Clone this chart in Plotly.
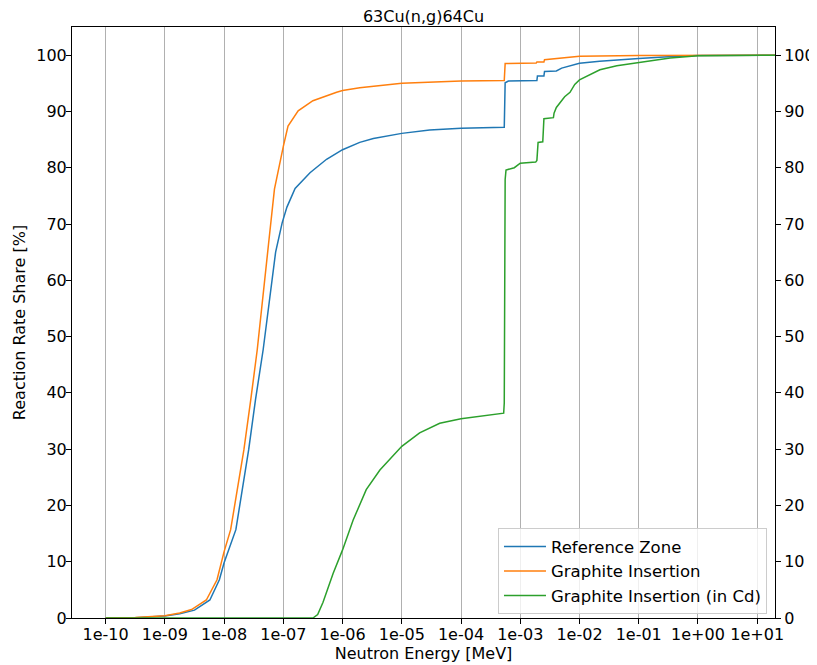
import plotly.graph_objects as go

# ---- data (energy in MeV, cumulative share in %) ----
energy_ref = [1e-10, 3.16e-10, 1e-9, 1.78e-9, 3.16e-9, 5.75e-9, 8.32e-9, 1e-8, 1.58e-8,
              2.60e-8, 3.39e-8, 4.57e-8, 7.41e-8, 9.55e-8, 1.15e-7, 1.58e-7, 2.82e-7,
              5.37e-7, 1e-6, 1.95e-6, 3.31e-6, 1e-5, 2.95e-5, 1e-4, 5.37e-4, 5.56e-4,
              6.31e-4, 1.91e-3, 1.95e-3, 2.51e-3, 2.57e-3, 4.07e-3, 5.01e-3, 7.41e-3,
              1e-2, 2.19e-2, 4.79e-2, 1e-1, 3.16e-1, 1.0, 20.0]
share_ref = [0, 0.06, 0.35, 0.75, 1.4, 3.2, 6.8, 9.8, 15.7,
             29.9, 38.8, 47.7, 65.0, 70.2, 73.0, 76.3, 79.1,
             81.5, 83.2, 84.5, 85.2, 86.1, 86.7, 87.0, 87.2, 95.1,
             95.4, 95.5, 96.3, 96.3, 97.1, 97.2, 97.7, 98.2,
             98.55, 98.9, 99.2, 99.4, 99.7, 99.95, 100]

energy_gi = [1e-10, 3.16e-10, 1e-9, 1.78e-9, 2.82e-9, 5.01e-9, 7.59e-9, 1e-8, 1.29e-8,
             2.16e-8, 2.82e-8, 3.63e-8, 5.62e-8, 7.08e-8, 1e-7, 1.20e-7, 1.78e-7,
             3.16e-7, 7.94e-7, 1e-6, 1.95e-6, 1e-5, 1e-4, 5.37e-4, 5.56e-4, 1.86e-3,
             1.91e-3, 2.51e-3, 2.57e-3, 5.01e-3, 1e-2, 1e-1, 1.0, 20.0]
share_gi = [0, 0.08, 0.4, 0.9, 1.5, 3.2, 6.8, 11.8, 15.7,
            29.9, 38.8, 47.7, 66.4, 76.2, 83.8, 87.4, 90.1,
            91.9, 93.4, 93.7, 94.2, 95.0, 95.4, 95.5, 98.5, 98.6,
            98.8, 98.8, 99.2, 99.5, 99.8, 99.95, 100, 100]

energy_cd = [1e-10, 3.16e-7, 3.80e-7, 4.68e-7, 6.92e-7, 1e-6, 1.51e-6, 2.51e-6, 4.27e-6,
             1e-5, 2.00e-5, 4.37e-5, 1e-4, 2.34e-4, 5.25e-4, 5.37e-4, 5.56e-4,
             5.75e-4, 7.94e-4, 1e-3, 1.82e-3, 1.91e-3, 2.00e-3, 2.40e-3, 2.51e-3,
             3.63e-3, 3.72e-3, 4.07e-3, 5.01e-3, 5.62e-3, 6.92e-3, 8.32e-3, 1e-2,
             1.51e-2, 2.21e-2, 4.27e-2, 1e-1, 1.55e-1, 3.39e-1, 1.0, 20.0]
share_cd = [0, 0, 0.6, 2.8, 7.9, 12.1, 17.4, 22.8, 26.3,
            30.5, 32.9, 34.6, 35.4, 35.9, 36.4, 38.2, 77.9,
            79.6, 80.0, 80.8, 81.0, 81.3, 84.5, 84.6, 88.7,
            88.9, 89.7, 90.7, 91.9, 92.6, 93.4, 94.8, 95.6,
            96.6, 97.4, 98.1, 98.7, 99.0, 99.5, 99.9, 100]

series_names = ["Reference Zone", "Graphite Insertion", "Graphite Insertion (in Cd)"]
series_colors = ["#1f77b4", "#ff7f0e", "#2ca02c"]

x_tick_vals = [1e-10, 1e-9, 1e-8, 1e-7, 1e-6, 1e-5, 1e-4, 1e-3, 1e-2, 1e-1, 1e0, 1e1]
x_tick_text = ["1e-10", "1e-09", "1e-08", "1e-07", "1e-06", "1e-05", "1e-04",
               "1e-03", "1e-02", "1e-01", "1e+00", "1e+01"]
y_tick_vals = [0, 10, 20, 30, 40, 50, 60, 70, 80, 90, 100]

FONT = "DejaVu Sans"
W, H = 809, 657  # page body adds an 8px offset

fig = go.Figure()
for name, E, v, c in zip(series_names,
                         [energy_ref, energy_gi, energy_cd],
                         [share_ref, share_gi, share_cd],
                         series_colors):
    fig.add_trace(go.Scatter(x=E, y=v, mode="lines", name=name,
                             line=dict(color=c, width=1.5)))

# invisible helper so the right-hand axis is drawn
fig.add_trace(go.Scatter(x=[1e-10], y=[0], yaxis="y2", mode="markers",
                         marker=dict(opacity=0), showlegend=False, hoverinfo="skip"))

fig.update_layout(
    width=W, height=H,
    margin=dict(l=64, r=42, t=19, b=47, autoexpand=False),
    paper_bgcolor="white", plot_bgcolor="white",
    font=dict(family=FONT, size=16, color="black"),
    title=dict(text="63Cu(n,g)64Cu", x=0.5, xref="paper", xanchor="center",
               y=1 - 8 / H, yref="container", yanchor="middle",
               font=dict(family=FONT, size=16, color="black")),
    xaxis=dict(type="log", range=[-10.568, 1.301], automargin=False,
               tickvals=x_tick_vals, ticktext=x_tick_text,
               ticks="outside", ticklen=5, tickcolor="black", tickwidth=1,
               ticklabelstandoff=-3,
               showline=True, linecolor="black", linewidth=1, mirror=True,
               showgrid=True, gridcolor="#b0b0b0", gridwidth=1, zeroline=False,
               tickfont=dict(family=FONT, size=16, color="black"),
               title=dict(text="Neutron Energy [MeV]", standoff=0,
                          font=dict(family=FONT, size=16, color="black"))),
    yaxis=dict(range=[0, 105], tickvals=y_tick_vals, automargin=False,
               ticks="outside", ticklen=5, tickcolor="black", tickwidth=1,
               ticklabelstandoff=-4,
               showline=True, linecolor="black", linewidth=1, mirror=True,
               showgrid=False, zeroline=False,
               tickfont=dict(family=FONT, size=16, color="black"),
               title=dict(text="Reaction Rate Share [%]", standoff=6,
                          font=dict(family=FONT, size=16, color="black"))),
    yaxis2=dict(overlaying="y", side="right", range=[0, 105], tickvals=y_tick_vals,
                automargin=False,
                ticks="outside", ticklen=5, tickcolor="black", tickwidth=1,
                showline=True, linecolor="black", linewidth=1,
                showgrid=False, zeroline=False,
                tickfont=dict(family=FONT, size=16, color="black")),
    legend=dict(x=0.9886, y=0.0063, xanchor="right", yanchor="bottom",
                bgcolor="rgba(255,255,255,0.8)", bordercolor="#cccccc", borderwidth=1,
                itemwidth=42,
                font=dict(family=FONT, size=16.5, color="black")),
    showlegend=True,
)

fig.write_html("out.html")
